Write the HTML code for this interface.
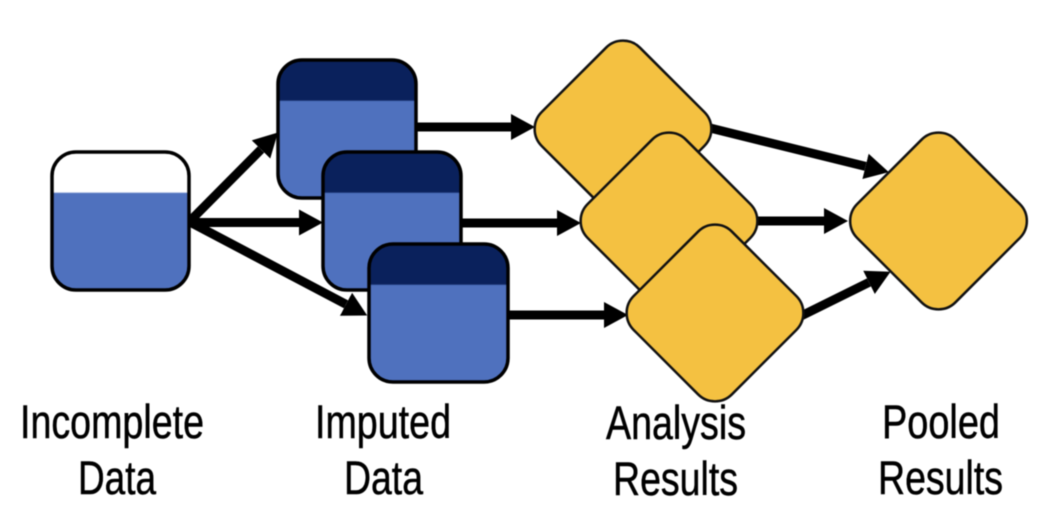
<!DOCTYPE html>
<html>
<head>
<meta charset="utf-8">
<style>
html,body{margin:0;padding:0;background:#fff;width:1037px;height:513px;overflow:hidden}
svg{display:block;filter:blur(0.5px)}
text{font-family:"Liberation Sans",Arial,sans-serif;font-size:47px;fill:#000;stroke:#000;stroke-width:0.5px}
</style>
</head>
<body>
<svg width="1037" height="513" viewBox="0 0 1037 513" xmlns="http://www.w3.org/2000/svg">
<defs>
<marker id="h" markerUnits="userSpaceOnUse" markerWidth="26" markerHeight="28" refX="0" refY="14" orient="auto">
<polygon points="0,1 24,14 0,27" fill="#000"/>
</marker>
<linearGradient id="g1" x1="0" y1="0" x2="0" y2="1">
<stop offset="0.29" stop-color="#fff"/><stop offset="0.3" stop-color="#4F71BE"/>
</linearGradient>
<linearGradient id="g2" x1="0" y1="0" x2="0" y2="1">
<stop offset="0.29" stop-color="#0A215C"/><stop offset="0.3" stop-color="#4F71BE"/>
</linearGradient>
</defs>

<g stroke="#000" stroke-width="9" fill="none">
<line x1="188" y1="223" x2="261" y2="149.5" marker-end="url(#h)"/>
<line x1="188" y1="222.5" x2="299" y2="222.5" marker-end="url(#h)"/>
<line x1="188" y1="221" x2="346" y2="304.3" marker-end="url(#h)"/>
<line x1="415" y1="127" x2="511" y2="127" marker-end="url(#h)"/>
<line x1="460" y1="223" x2="557" y2="223" marker-end="url(#h)"/>
<line x1="507" y1="315" x2="604" y2="315" marker-end="url(#h)"/>
<line x1="710" y1="128" x2="865.5" y2="166.4" marker-end="url(#h)"/>
<line x1="755" y1="221" x2="824" y2="221" marker-end="url(#h)"/>
<line x1="801" y1="316" x2="869" y2="282.4" marker-end="url(#h)"/>
</g>

<g stroke="#000" stroke-width="3.5">
<rect x="52" y="152" width="137" height="138" rx="24" fill="url(#g1)"/>
<rect x="278" y="60" width="138" height="138" rx="24" fill="url(#g2)"/>
<rect x="323" y="152" width="138" height="138" rx="24" fill="url(#g2)"/>
<rect x="369" y="244" width="139" height="138" rx="24" fill="url(#g2)"/>
</g>

<g stroke="#111" stroke-width="2.5" fill="#F4C141">
<rect x="-69.5" y="-69.5" width="139" height="139" rx="24" transform="translate(623 129) rotate(45)"/>
<rect x="-69.5" y="-69.5" width="139" height="139" rx="24" transform="translate(669 221) rotate(45)"/>
<rect x="-69.5" y="-69.5" width="139" height="139" rx="24" transform="translate(715 313) rotate(45)"/>
<rect x="-69.5" y="-69.5" width="139" height="139" rx="24" transform="translate(938.5 221) rotate(45)"/>
</g>

<text x="20" y="438" textLength="184" lengthAdjust="spacingAndGlyphs">Incomplete</text>
<text x="78" y="494" textLength="78" lengthAdjust="spacingAndGlyphs">Data</text>
<text x="315" y="438" textLength="136" lengthAdjust="spacingAndGlyphs">Imputed</text>
<text x="344" y="494" textLength="79" lengthAdjust="spacingAndGlyphs">Data</text>
<text x="606" y="439" textLength="140" lengthAdjust="spacingAndGlyphs">Analysis</text>
<text x="613" y="495" textLength="125" lengthAdjust="spacingAndGlyphs">Results</text>
<text x="882" y="438" textLength="118" lengthAdjust="spacingAndGlyphs">Pooled</text>
<text x="878" y="494" textLength="125" lengthAdjust="spacingAndGlyphs">Results</text>
</svg>
</body>
</html>
